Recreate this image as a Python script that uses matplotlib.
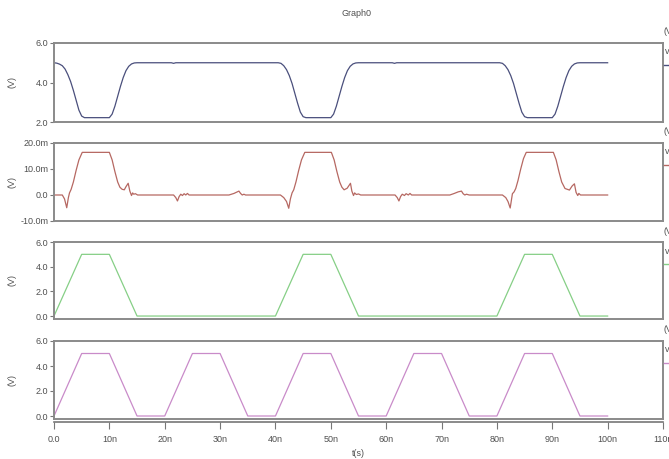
import matplotlib
matplotlib.use("Agg")
import matplotlib.pyplot as plt

plt.rcParams['font.family'] = ['Liberation Sans Narrow', 'Liberation Sans', 'DejaVu Sans']

# panel 1 : inverter output (V), time in ns
out_t = [0, 0.5, 1, 1.5, 2, 2.5, 3, 3.5, 4, 4.5, 5, 5.5,
         10, 10.5, 11, 11.5, 12, 12.5, 13, 13.5, 14, 14.5, 15,
         21.2, 21.6, 22.0,
         40.5, 41, 41.5, 42, 42.5, 43, 43.5, 44, 44.5, 45, 45.5,
         50, 50.5, 51, 51.5, 52, 52.5, 53, 53.5, 54, 54.5, 55,
         61.1, 61.5, 61.9,
         80.5, 81, 81.5, 82, 82.5, 83, 83.5, 84, 84.5, 85, 85.5,
         90, 90.5, 91, 91.5, 92, 92.5, 93, 93.5, 94, 94.5, 95, 100]
out_v = [5.0, 4.98, 4.93, 4.85, 4.68, 4.4, 4.05, 3.6, 3.1, 2.6, 2.3, 2.22,
         2.22, 2.4, 2.8, 3.3, 3.8, 4.25, 4.6, 4.82, 4.94, 4.99, 5.0,
         5.0, 4.97, 5.0,
         5.0, 4.97, 4.85, 4.65, 4.35, 3.95, 3.45, 2.95, 2.5, 2.27, 2.22,
         2.22, 2.4, 2.8, 3.3, 3.8, 4.25, 4.6, 4.82, 4.94, 4.99, 5.0,
         5.0, 4.97, 5.0,
         5.0, 4.97, 4.85, 4.65, 4.35, 3.95, 3.45, 2.95, 2.5, 2.27, 2.22,
         2.22, 2.4, 2.8, 3.3, 3.8, 4.25, 4.6, 4.82, 4.94, 4.99, 5.0, 5.0]

# panel 2 : small node voltage (mV)
mid_t = [0, 1.5, 1.9, 2.3, 2.6, 2.8, 3.1, 3.5, 4.0, 4.5, 5.1, 10.0, 10.5, 11.0, 11.5,
         11.9, 12.3, 12.7, 13.0, 13.4, 13.7, 14.0, 14.2, 14.4, 14.7, 15.1,
         21.6, 22.0, 22.3, 22.6, 22.9, 23.2, 23.5, 23.8, 24.1, 24.4, 24.7,
         31.6, 32.5, 33.0, 33.4, 33.7, 34.0, 34.3, 34.6,
         40.9, 41.5, 42.0, 42.4, 42.7, 43.0, 43.3, 43.7, 44.2, 44.7, 45.3, 50.1, 50.6,
         51.1, 51.6, 52.0, 52.4, 52.95, 53.55, 53.8, 54.1, 54.3, 54.6, 55.0, 55.4,
         61.6, 62.0, 62.3, 62.6, 62.9, 63.3, 63.6, 64.0, 64.3, 64.6, 65.0,
         71.5, 72.3, 73.0, 73.6, 73.9, 74.2, 74.5, 75.0,
         81.0, 81.6, 82.0, 82.4, 82.8, 83.1, 83.4, 83.8, 84.3, 84.8, 85.3, 90.2, 90.7,
         91.2, 91.7, 92.3, 92.7, 93.1, 93.6, 94.0, 94.3, 94.6, 94.8, 95.1, 100]
mid_mv = [0, 0, -1.5, -4.9, -1.0, 0.8, 2.2, 5.0, 9.5, 13.5, 16.4, 16.4, 13.5, 9.0, 5.0,
          3.0, 2.2, 2.0, 3.2, 4.5, 1.5, -0.2, 0.8, 0.3, 0.5, 0,
          0, -1.0, -2.3, -0.6, 0.3, -0.2, 0.5, 0, 0.6, 0, 0,
          0, 0.6, 1.1, 1.5, 0.6, 0, 0.3, 0,
          0, -1.0, -2.5, -5.1, -1.5, 0.8, 2.0, 5.0, 9.5, 13.5, 16.4, 16.4, 13.5,
          9.0, 5.0, 3.0, 2.0, 2.6, 4.5, 1.5, -0.2, 0.8, 0.2, 0.4, 0,
          0, -1.0, -2.3, -0.6, 0.3, -0.2, 0.5, 0, 0.6, 0, 0,
          0, 0.6, 1.2, 1.5, 0.5, 0, 0.3, 0,
          0, -1.0, -2.5, -5.0, 0.5, 1.2, 2.5, 5.5, 10.0, 14.0, 16.4, 16.4, 13.5,
          9.0, 5.0, 2.5, 2.2, 1.9, 3.5, 4.3, 1.0, -0.2, 0.6, 0, 0]

# panel 3 : input A
in_a_t = [0, 5, 10, 15, 40, 45, 50, 55, 80, 85, 90, 95, 100]
in_a_v = [0, 5, 5, 0, 0, 5, 5, 0, 0, 5, 5, 0, 0]

# panel 4 : input B
in_b_t = [0, 5, 10, 15, 20, 25, 30, 35, 40, 45, 50, 55, 60, 65, 70, 75, 80, 85, 90, 95, 100]
in_b_v = [0, 5, 5, 0, 0, 5, 5, 0, 0, 5, 5, 0, 0, 5, 5, 0, 0, 5, 5, 0, 0]

x_ticks = list(range(0, 111, 10))
x_labels = ["0.0"] + ["%dn" % t for t in x_ticks[1:]]

W, H = 669, 459
fig = plt.figure(figsize=(W / 100, H / 100), dpi=100)
fig.patch.set_facecolor("white")

def px_axes(x0, y0, x1, y1):
    return fig.add_axes([x0 / W, 1 - y1 / H, (x1 - x0) / W, (y1 - y0) / H])

panels = [
    (43, 122, out_t, out_v, "#4a4f7c", (2.0, 6.0), [2, 4, 6], ["2.0", "4.0", "6.0"]),
    (143, 221, mid_t, mid_mv, "#b66862", (-10, 20), [-10, 0, 10, 20], ["-10.0m", "0.0", "10.0m", "20.0m"]),
    (242, 319, in_a_t, in_a_v, "#86cf86", (-0.24, 6.0), [0, 2, 4, 6], ["0.0", "2.0", "4.0", "6.0"]),
    (341, 419, in_b_t, in_b_v, "#c98bc9", (-0.24, 6.0), [0, 2, 4, 6], ["0.0", "2.0", "4.0", "6.0"]),
]

tcol = "#505050"
for top, bot, t, v, col, ylim, yt, ylab in panels:
    ax = px_axes(54, top, 663, bot)
    ax.plot(t, v, color=col, lw=0.9)
    ax.set_xlim(0, 110)
    ax.set_ylim(*ylim)
    ax.set_xticks([])
    ax.set_yticks(yt)
    ax.set_yticklabels(ylab)
    ax.tick_params(axis="y", length=3, width=0.8, color="#777777", pad=1,
                   labelsize=6.5, labelcolor=tcol)
    for s in ax.spines.values():
        s.set_color("#8a8a8a")
        s.set_linewidth(1.4)
    ax.set_ylabel("(V)", fontsize=6.5, color=tcol)
    ax.yaxis.set_label_coords(-0.062, 0.5)
    # legend at right edge, cut off by the figure border as in the source
    fig.text(664 / W, 1 - (top - 11) / H, "(V)", fontsize=6.5, color=tcol, va="center")
    fig.text(665 / W, 1 - (top + 9) / H, "v", fontsize=6.5, color=tcol, va="center")
    fig.lines.append(plt.Line2D([664 / W, 672 / W], [1 - (top + 22) / H] * 2,
                                color=col, lw=1.0, transform=fig.transFigure))

# separate time axis below the last panel
axx = px_axes(54, 421, 663, 421.5)
axx.set_xlim(0, 110)
axx.set_yticks([])
for k in ("top", "left", "right"):
    axx.spines[k].set_visible(False)
axx.spines["bottom"].set_color("#777777")
axx.spines["bottom"].set_linewidth(1.2)
axx.set_xticks(x_ticks)
axx.set_xticklabels(x_labels)
axx.tick_params(axis="x", length=5, width=0.8, color="#777777", pad=5,
                labelsize=6.5, labelcolor=tcol)
axx.set_xlabel("t(s)", fontsize=6.5, color=tcol, labelpad=3)

fig.text(356 / W, 1 - 14 / H, "Graph0", fontsize=6.5, color=tcol, ha="center", va="center")

fig.savefig("out.png", dpi=100)
